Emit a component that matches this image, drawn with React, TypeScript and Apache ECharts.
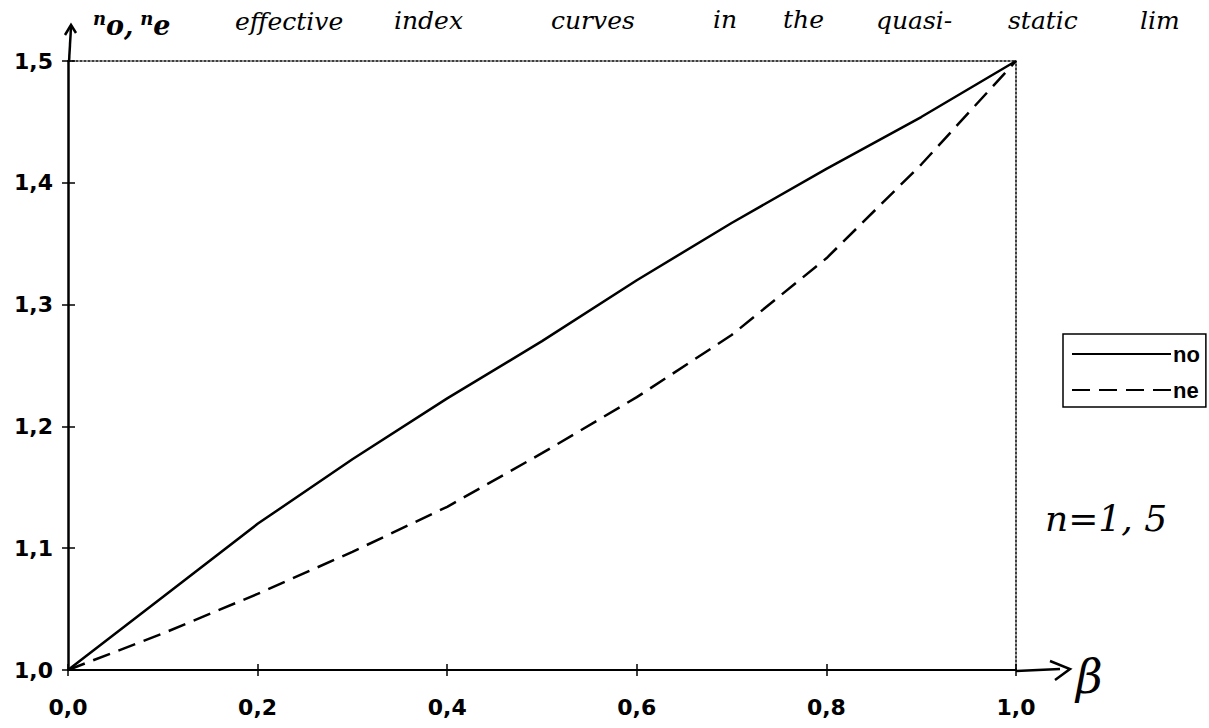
import React, { useEffect, useRef } from "react";
import * as echarts from "echarts";

// Data
const xValues = [0, 0.1, 0.2, 0.3, 0.4, 0.5, 0.6, 0.7, 0.8, 0.9, 1.0];
const noValues = [1.0, 1.06, 1.12, 1.173, 1.223, 1.27, 1.32, 1.367, 1.4115, 1.454, 1.5];
const neValues = [1.0, 1.03, 1.0625, 1.097, 1.134, 1.178, 1.224, 1.275, 1.338, 1.415, 1.5];
const seriesNames = ["no", "ne"];
const xRange = [0, 1];
const yRange = [1.0, 1.5];
const xStep = 0.2;
const yStep = 0.1;
const titleWords = ["effective", "index", "curves", "in", "the", "quasi-", "static", "lim"];
const paramNote = "n=1, 5";
const xName = "β";

const fmt = (v: number) => v.toFixed(1).replace(".", ",");

const HAND = "'DejaVu Serif', serif";
const AX = "'DejaVu Sans', sans-serif";

export default function App() {
  const ref = useRef<HTMLDivElement>(null);
  useEffect(() => {
    if (!ref.current) return;
    document.body.style.margin = "0";
    const chart = echarts.init(ref.current, undefined, { renderer: "svg" });

    const wordPos = [
      [235, 34], [394, 33], [551, 33], [713, 32], [783, 32], [876, 33], [1008, 33], [1140, 33],
    ];

    const dotted = { color: "#000", width: 1.5, type: [2, 2] };

    const option: any = {
      animation: false,
      backgroundColor: "#fff",
      grid: { left: 68, right: 193, top: 61, bottom: 58, containLabel: false },
      legend: {
        orient: "vertical",
        left: 1063,
        top: 334,
        itemWidth: 99,
        itemHeight: 14,
        itemGap: 14,
        padding: [9, 6, 6, 8],
        borderColor: "#000",
        borderWidth: 1.5,
        selectedMode: false,
        data: seriesNames,
        itemStyle: { opacity: 0 },
        textStyle: {
          fontFamily: "'Liberation Sans', Arial, sans-serif",
          fontWeight: "bold",
          fontSize: 22,
          color: "#000",
          padding: [0, 0, 0, -3],
        },
      },
      xAxis: [
        {
          type: "value",
          min: xRange[0],
          max: xRange[1],
          interval: xStep,
          position: "bottom",
          axisLine: { show: true, onZero: false, lineStyle: { color: "#000", width: 2 } },
          axisTick: { show: true, inside: false, length: 6, lineStyle: { color: "#000", width: 1.5 } },
          axisLabel: {
            formatter: fmt,
            color: "#000",
            fontFamily: AX,
            fontWeight: "bold",
            fontSize: 22,
            margin: 26,
          },
          splitLine: { show: false },
          name: xName,
          nameLocation: "end",
          nameGap: 60,
          nameTextStyle: {
            fontFamily: HAND,
            fontStyle: "italic",
            fontSize: 46,
            color: "#000",
            align: "left",
            verticalAlign: "top",
            lineHeight: 14,
          },
        },
        {
          type: "value",
          min: xRange[0],
          max: xRange[1],
          interval: xStep,
          position: "bottom",
          axisLine: { show: false, onZero: false },
          axisTick: { show: true, inside: true, length: 6, lineStyle: { color: "#000", width: 1.5 } },
          axisLabel: { show: false },
          splitLine: { show: false },
        },
        {
          type: "value",
          min: xRange[0],
          max: xRange[1],
          position: "top",
          axisLine: { show: true, onZero: false, lineStyle: dotted },
          axisTick: { show: false },
          axisLabel: { show: false },
          splitLine: { show: false },
        },
      ],
      yAxis: [
        {
          type: "value",
          min: yRange[0],
          max: yRange[1],
          interval: yStep,
          position: "left",
          axisLine: { show: true, onZero: false, lineStyle: { color: "#000", width: 2.5 } },
          axisTick: { show: true, inside: false, length: 6, lineStyle: { color: "#000", width: 1.5 } },
          axisLabel: {
            formatter: fmt,
            color: "#000",
            fontFamily: AX,
            fontWeight: "bold",
            fontSize: 22,
            margin: 15,
          },
          splitLine: { show: false },
          name: "{s|n}{b|o,}  {s|n}{b|e}",
          nameLocation: "end",
          nameGap: 22,
          nameTextStyle: {
            align: "left",
            padding: [0, 0, 0, 25],
            color: "#000",
            rich: {
              s: { fontFamily: HAND, fontStyle: "italic", fontSize: 18, fontWeight: "bold", verticalAlign: "top", lineHeight: 30, color: "#000" },
              b: { fontFamily: HAND, fontStyle: "italic", fontSize: 27, fontWeight: "bold", verticalAlign: "bottom", lineHeight: 30, color: "#000" },
            },
          },
        },
        {
          type: "value",
          min: yRange[0],
          max: yRange[1],
          interval: yStep,
          position: "left",
          axisLine: { show: false, onZero: false },
          axisTick: { show: true, inside: true, length: 7, lineStyle: { color: "#000", width: 1.5 } },
          axisLabel: { show: false },
          splitLine: { show: false },
        },
        {
          type: "value",
          min: yRange[0],
          max: yRange[1],
          position: "right",
          axisLine: { show: true, onZero: false, lineStyle: dotted },
          axisTick: { show: false },
          axisLabel: { show: false },
          splitLine: { show: false },
        },
      ],
      series: [
        {
          name: seriesNames[0],
          type: "line",
          xAxisIndex: 0,
          yAxisIndex: 0,
          symbol: "none",
          data: xValues.map((x, i) => [x, noValues[i]]),
          lineStyle: { color: "#000", width: 2.5, type: "solid" },
          itemStyle: { color: "#000" },
        },
        {
          name: seriesNames[1],
          type: "line",
          xAxisIndex: 0,
          yAxisIndex: 0,
          symbol: "none",
          data: xValues.map((x, i) => [x, neValues[i]]),
          lineStyle: { color: "#000", width: 2.5, type: [18, 9] },
          itemStyle: { color: "#000" },
        },
      ],
      graphic: [
        // hand-drawn y axis arrow
        { type: "line", shape: { x1: 69, y1: 62, x2: 71, y2: 27 }, style: { stroke: "#000", lineWidth: 2.5 } },
        { type: "polyline", shape: { points: [[65, 35], [71, 25], [76, 33]] }, style: { stroke: "#000", lineWidth: 2.5, fill: "none" } },
        // hand-drawn x axis arrow
        { type: "line", shape: { x1: 1016, y1: 671, x2: 1060, y2: 669 }, style: { stroke: "#000", lineWidth: 2.5 } },
        { type: "polyline", shape: { points: [[1050, 661], [1070, 669], [1055, 680]] }, style: { stroke: "#000", lineWidth: 2.5, fill: "none" } },
        // handwritten parameter note
        {
          type: "text",
          left: 1045,
          top: 500,
          style: { text: paramNote, fontFamily: HAND, fontStyle: "italic", fontSize: 36, fill: "#000" },
        },
        // handwritten title words
        ...titleWords.map((w, i) => ({
          type: "text",
          x: wordPos[i][0],
          y: wordPos[i][1],
          style: {
            text: w,
            fontFamily: HAND,
            fontStyle: "italic",
            fontSize: 25,
            fill: "#000",
            verticalAlign: "bottom",
          },
        })),
      ],
    };
    chart.setOption(option);
    return () => chart.dispose();
  }, []);
  return (
    <div
      ref={ref}
      style={{ position: "absolute", left: 0, top: 0, width: 1209, height: 728, background: "#fff" }}
    />
  );
}
